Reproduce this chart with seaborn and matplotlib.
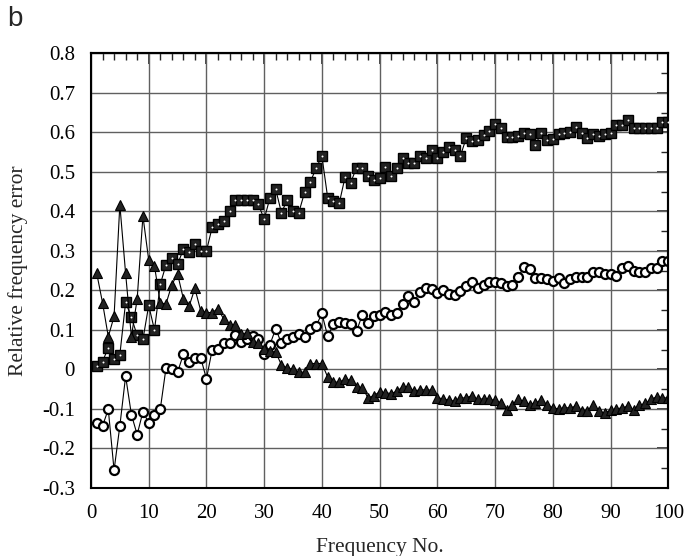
import numpy as np
import matplotlib
matplotlib.use("Agg")
import matplotlib.pyplot as plt
from matplotlib.ticker import MultipleLocator, NullFormatter
import seaborn as sns

## data (frequency no. 1..100)
freq = np.arange(1, 101)

squares = [0.01, 0.02, 0.055, 0.027, 0.037, 0.17, 0.132, 0.086, 0.076, 0.162,
           0.10, 0.215, 0.265, 0.283, 0.266, 0.304, 0.298, 0.318, 0.30, 0.30,
           0.36, 0.367, 0.375, 0.40, 0.43, 0.43, 0.43, 0.43, 0.418, 0.38,
           0.434, 0.456, 0.396, 0.43, 0.40, 0.397, 0.448, 0.475, 0.509, 0.54,
           0.435, 0.427, 0.42, 0.486, 0.473, 0.511, 0.511, 0.49, 0.48, 0.484,
           0.513, 0.49, 0.51, 0.536, 0.522, 0.522, 0.54, 0.534, 0.556, 0.534,
           0.55, 0.564, 0.556, 0.54, 0.586, 0.578, 0.58, 0.593, 0.604, 0.622,
           0.61, 0.587, 0.587, 0.59, 0.598, 0.595, 0.569, 0.598, 0.58, 0.584,
           0.595, 0.598, 0.60, 0.614, 0.598, 0.585, 0.595, 0.59, 0.595, 0.598,
           0.618, 0.618, 0.63, 0.612, 0.612, 0.612, 0.612, 0.612, 0.625, 0.625]

circles = [-0.135, -0.143, -0.101, -0.255, -0.143, -0.017, -0.114, -0.165, -0.107, -0.135,
           -0.114, -0.101, 0.004, 0.0, -0.007, 0.038, 0.019, 0.03, 0.03, -0.024,
           0.05, 0.052, 0.066, 0.066, 0.087, 0.069, 0.078, 0.084, 0.076, 0.038,
           0.063, 0.103, 0.066, 0.078, 0.083, 0.089, 0.083, 0.103, 0.11, 0.142,
           0.084, 0.114, 0.12, 0.118, 0.116, 0.097, 0.138, 0.118, 0.135, 0.139,
           0.145, 0.137, 0.142, 0.166, 0.186, 0.171, 0.197, 0.207, 0.203, 0.193,
           0.20, 0.19, 0.188, 0.198, 0.211, 0.222, 0.207, 0.213, 0.221, 0.221,
           0.22, 0.211, 0.213, 0.235, 0.258, 0.253, 0.232, 0.232, 0.228, 0.224,
           0.232, 0.218, 0.228, 0.235, 0.235, 0.235, 0.247, 0.247, 0.242, 0.242,
           0.236, 0.256, 0.262, 0.25, 0.247, 0.247, 0.256, 0.256, 0.274, 0.274]

triangles = [0.243, 0.169, 0.083, 0.134, 0.417, 0.243, 0.083, 0.178, 0.388, 0.277,
             0.262, 0.168, 0.166, 0.214, 0.242, 0.179, 0.16, 0.205, 0.149, 0.144,
             0.144, 0.154, 0.127, 0.112, 0.113, 0.089, 0.093, 0.069, 0.066, 0.051,
             0.046, 0.044, 0.011, 0.004, 0.0, -0.007, -0.007, 0.015, 0.015, 0.015,
             -0.019, -0.032, -0.032, -0.025, -0.027, -0.044, -0.046, -0.072, -0.066, -0.057,
             -0.059, -0.061, -0.055, -0.044, -0.044, -0.055, -0.051, -0.052, -0.052, -0.072,
             -0.074, -0.078, -0.08, -0.072, -0.072, -0.066, -0.076, -0.074, -0.076, -0.078,
             -0.084, -0.103, -0.089, -0.076, -0.08, -0.089, -0.084, -0.078, -0.089, -0.097,
             -0.1, -0.097, -0.097, -0.093, -0.106, -0.106, -0.089, -0.106, -0.11, -0.103,
             -0.1, -0.097, -0.093, -0.103, -0.091, -0.086, -0.076, -0.069, -0.072, -0.072]

yticklabels = ['-0.3', '-0.2', '-0.1', '0', '0.1', '0.2', '0.3', '0.4', '0.5', '0.6', '0.7', '0.8']

sns.set_style("white")
plt.rcParams['font.family'] = ['Liberation Serif', 'DejaVu Serif']

fig = plt.figure(figsize=(6.84, 5.56), dpi=100)
ax = fig.add_axes([0.133, 0.1223, 0.844, 0.7818])

## grid behind the data
ax.set_axisbelow(True)
ax.grid(True, which='major', color='#606060', lw=1.0)

sns.lineplot(x=freq, y=squares, ax=ax, color='black', lw=0.8, marker='s',
             markersize=7.2, markerfacecolor='#222222', markeredgecolor='black', mew=1)
sns.scatterplot(x=freq, y=squares, ax=ax, color='white', s=2, linewidth=0, zorder=5)
sns.lineplot(x=freq, y=circles, ax=ax, color='black', lw=0.8, marker='o',
             markersize=6.5, markerfacecolor='white', markeredgecolor='black', mew=1.6)
sns.lineplot(x=freq, y=triangles, ax=ax, color='black', lw=0.8, marker='^',
             markersize=7.5, markerfacecolor='#222222', markeredgecolor='black', mew=0.8)

ax.set_xlim(0, 100)
ax.set_ylim(-0.3, 0.8)
ax.xaxis.set_major_locator(MultipleLocator(10))
ax.xaxis.set_minor_locator(MultipleLocator(2))
ax.yaxis.set_minor_locator(MultipleLocator(0.05))
ax.set_yticks(np.arange(-0.3, 0.81, 0.1))
ax.set_yticklabels(yticklabels)

ax.tick_params(which='major', direction='out', length=8, width=1.2, labelsize=15, colors='black')
ax.tick_params(which='minor', direction='out', length=4.5, width=1.0)

## top and right: inward ticks, no labels
top = ax.secondary_xaxis('top')
top.xaxis.set_major_locator(MultipleLocator(10))
top.xaxis.set_minor_locator(MultipleLocator(2))
top.xaxis.set_major_formatter(NullFormatter())
top.tick_params(which='major', direction='in', length=8, width=1.2)
top.tick_params(which='minor', direction='in', length=5, width=1.0)
right = ax.secondary_yaxis('right')
right.yaxis.set_major_locator(MultipleLocator(0.1))
right.yaxis.set_minor_locator(MultipleLocator(0.05))
right.yaxis.set_major_formatter(NullFormatter())
right.tick_params(which='major', direction='in', length=8, width=1.2)
right.tick_params(which='minor', direction='in', length=5, width=1.0)

for s in ax.spines.values():
    s.set_linewidth(1.5)
    s.set_color('black')
for s in list(top.spines.values()) + list(right.spines.values()):
    s.set_linewidth(1.5)

ax.set_xlabel("Frequency No.", fontsize=15.5, labelpad=11)
ax.set_ylabel("Relative frequency error", fontsize=15.5, labelpad=10)

fig.text(0.01, 0.99, "b", fontsize=20, family=['Liberation Sans', 'DejaVu Sans'],
         ha='left', va='top')

plt.savefig("out.png", dpi=100)
